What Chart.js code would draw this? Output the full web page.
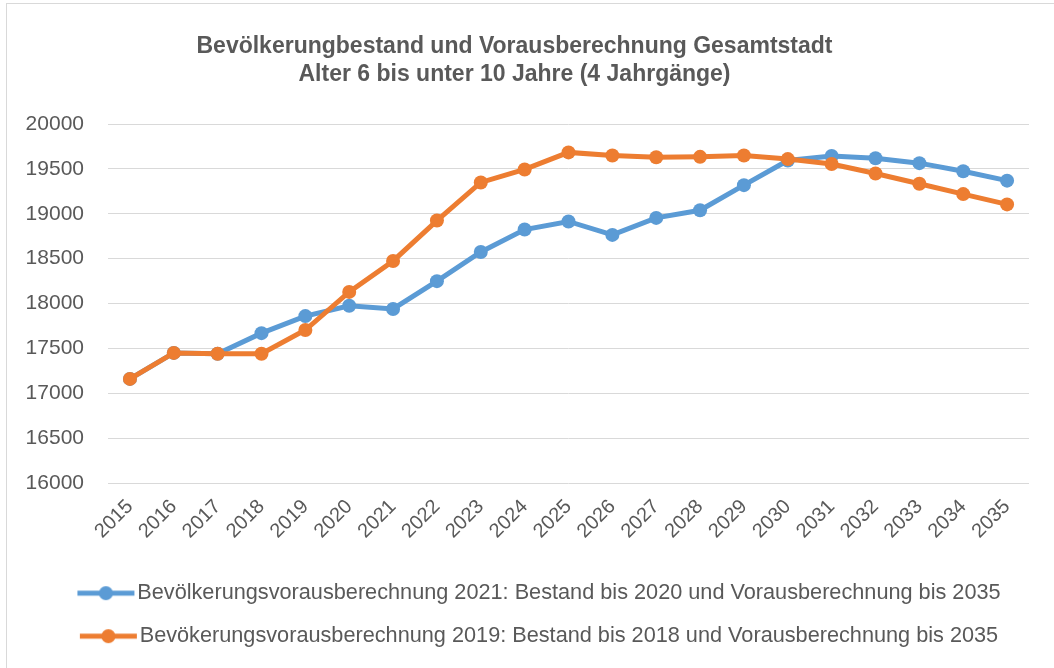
<!DOCTYPE html>
<html>
<head>
<meta charset="utf-8">
<script src="https://cdn.jsdelivr.net/npm/chart.js@4.4.1/dist/chart.umd.min.js"></script>
<style>
  html, body { margin: 0; padding: 0; background: #ffffff; }
  #wrap { position: relative; width: 1054px; height: 668px; overflow: hidden; }
  #frame { position: absolute; left: 6px; top: 3px; width: 1060px; height: 700px; border: 1px solid #d9d9d9; box-sizing: border-box; pointer-events: none; }
  canvas { position: absolute; left: 0; top: 0; }
</style>
</head>
<body>
<div id="wrap">
  <canvas id="c" width="1054" height="668"></canvas>
  <div id="frame"></div>
</div>
<script>
const years = ['2015','2016','2017','2018','2019','2020','2021','2022','2023','2024','2025','2026','2027','2028','2029','2030','2031','2032','2033','2034','2035'];
const vorausberechnung2021 = [17160,17450,17440,17670,17860,17975,17940,18250,18575,18825,18915,18765,18955,19040,19320,19595,19645,19620,19565,19475,19370];
const vorausberechnung2019 = [17160,17450,17440,17440,17705,18130,18475,18925,19350,19495,19685,19650,19630,19635,19650,19610,19555,19450,19335,19220,19105];
const seriesLabels = [
  'Bevölkerungsvorausberechnung 2021: Bestand bis 2020 und Vorausberechnung bis 2035',
  'Bevökerungsvorausberechnung 2019: Bestand bis 2018 und Vorausberechnung bis 2035'
];
const titleLines = ['Bevölkerungbestand und Vorausberechnung Gesamtstadt', 'Alter 6 bis unter 10 Jahre (4 Jahrgänge)'];
const yTicks = [16000,16500,17000,17500,18000,18500,19000,19500,20000];

const BLUE = '#5B9BD5';
const ORANGE = '#ED7D31';
const TEXT = '#595959';
const FONT = '"Liberation Sans", Arial, sans-serif';

function legendIcon(color) {
  const cv = document.createElement('canvas');
  cv.width = 120; cv.height = 18;
  const g = cv.getContext('2d');
  g.strokeStyle = color; g.lineWidth = 5; g.lineCap = 'butt';
  g.beginPath(); g.moveTo(60, 9); g.lineTo(117, 9); g.stroke();
  g.fillStyle = color;
  g.beginPath(); g.arc(88.5, 9, 7, 0, Math.PI * 2); g.fill();
  return cv;
}

const chart = new Chart(document.getElementById('c'), {
  type: 'line',
  data: {
    labels: years,
    datasets: [
      {
        label: seriesLabels[0],
        data: vorausberechnung2021,
        borderColor: BLUE, backgroundColor: BLUE,
        pointBackgroundColor: BLUE, pointBorderColor: BLUE,
        borderWidth: 5, pointRadius: 7, pointBorderWidth: 0,
        pointStyle: 'circle', tension: 0,
        order: 2
      },
      {
        label: seriesLabels[1],
        data: vorausberechnung2019,
        borderColor: ORANGE, backgroundColor: ORANGE,
        pointBackgroundColor: ORANGE, pointBorderColor: ORANGE,
        borderWidth: 5, pointRadius: 7, pointBorderWidth: 0,
        pointStyle: 'circle', tension: 0,
        order: 1
      }
    ]
  },
  options: {
    responsive: false,
    animation: false,
    devicePixelRatio: 1,
    layout: { padding: { left: 0, right: 25, top: 0, bottom: 11 } },
    plugins: {
      title: {
        display: true,
        text: titleLines,
        color: TEXT,
        font: { family: FONT, size: 23, weight: 'bold', lineHeight: 1.22 },
        padding: { top: 33, bottom: 35 }
      },
      legend: {
        position: 'bottom',
        labels: {
          color: TEXT,
          font: { family: FONT, size: 21.7 },
          usePointStyle: true,
          pointStyleWidth: 98,
          boxHeight: 18,
          padding: 21.3,
          generateLabels: (ch) => ch.data.datasets.map((ds, i) => ({
            text: ds.label,
            fillStyle: ds.borderColor,
            strokeStyle: ds.borderColor,
            lineWidth: 0,
            pointStyle: legendIcon(ds.borderColor),
            hidden: false,
            datasetIndex: i,
            fontColor: TEXT
          }))
        }
      },
      tooltip: { enabled: false }
    },
    scales: {
      x: {
        offset: true,
        grid: { display: false },
        border: { display: false },
        ticks: {
          color: TEXT,
          font: { family: FONT, size: 20 },
          maxRotation: 45, minRotation: 45,
          autoSkip: false,
          padding: 4
        },
        afterFit: (s) => { s.height = 78; }
      },
      y: {
        min: 16000, max: 20000,
        grid: { color: '#d9d9d9', lineWidth: 1, drawTicks: false },
        border: { display: false },
        afterBuildTicks: (s) => { s.ticks = yTicks.map(v => ({ value: v })); },
        ticks: {
          color: TEXT,
          font: { family: FONT, size: 21 },
          padding: 24,
          callback: (v) => String(v)
        },
        afterFit: (s) => { s.width = 108; }
      }
    }
  }
});
</script>
</body>
</html>
